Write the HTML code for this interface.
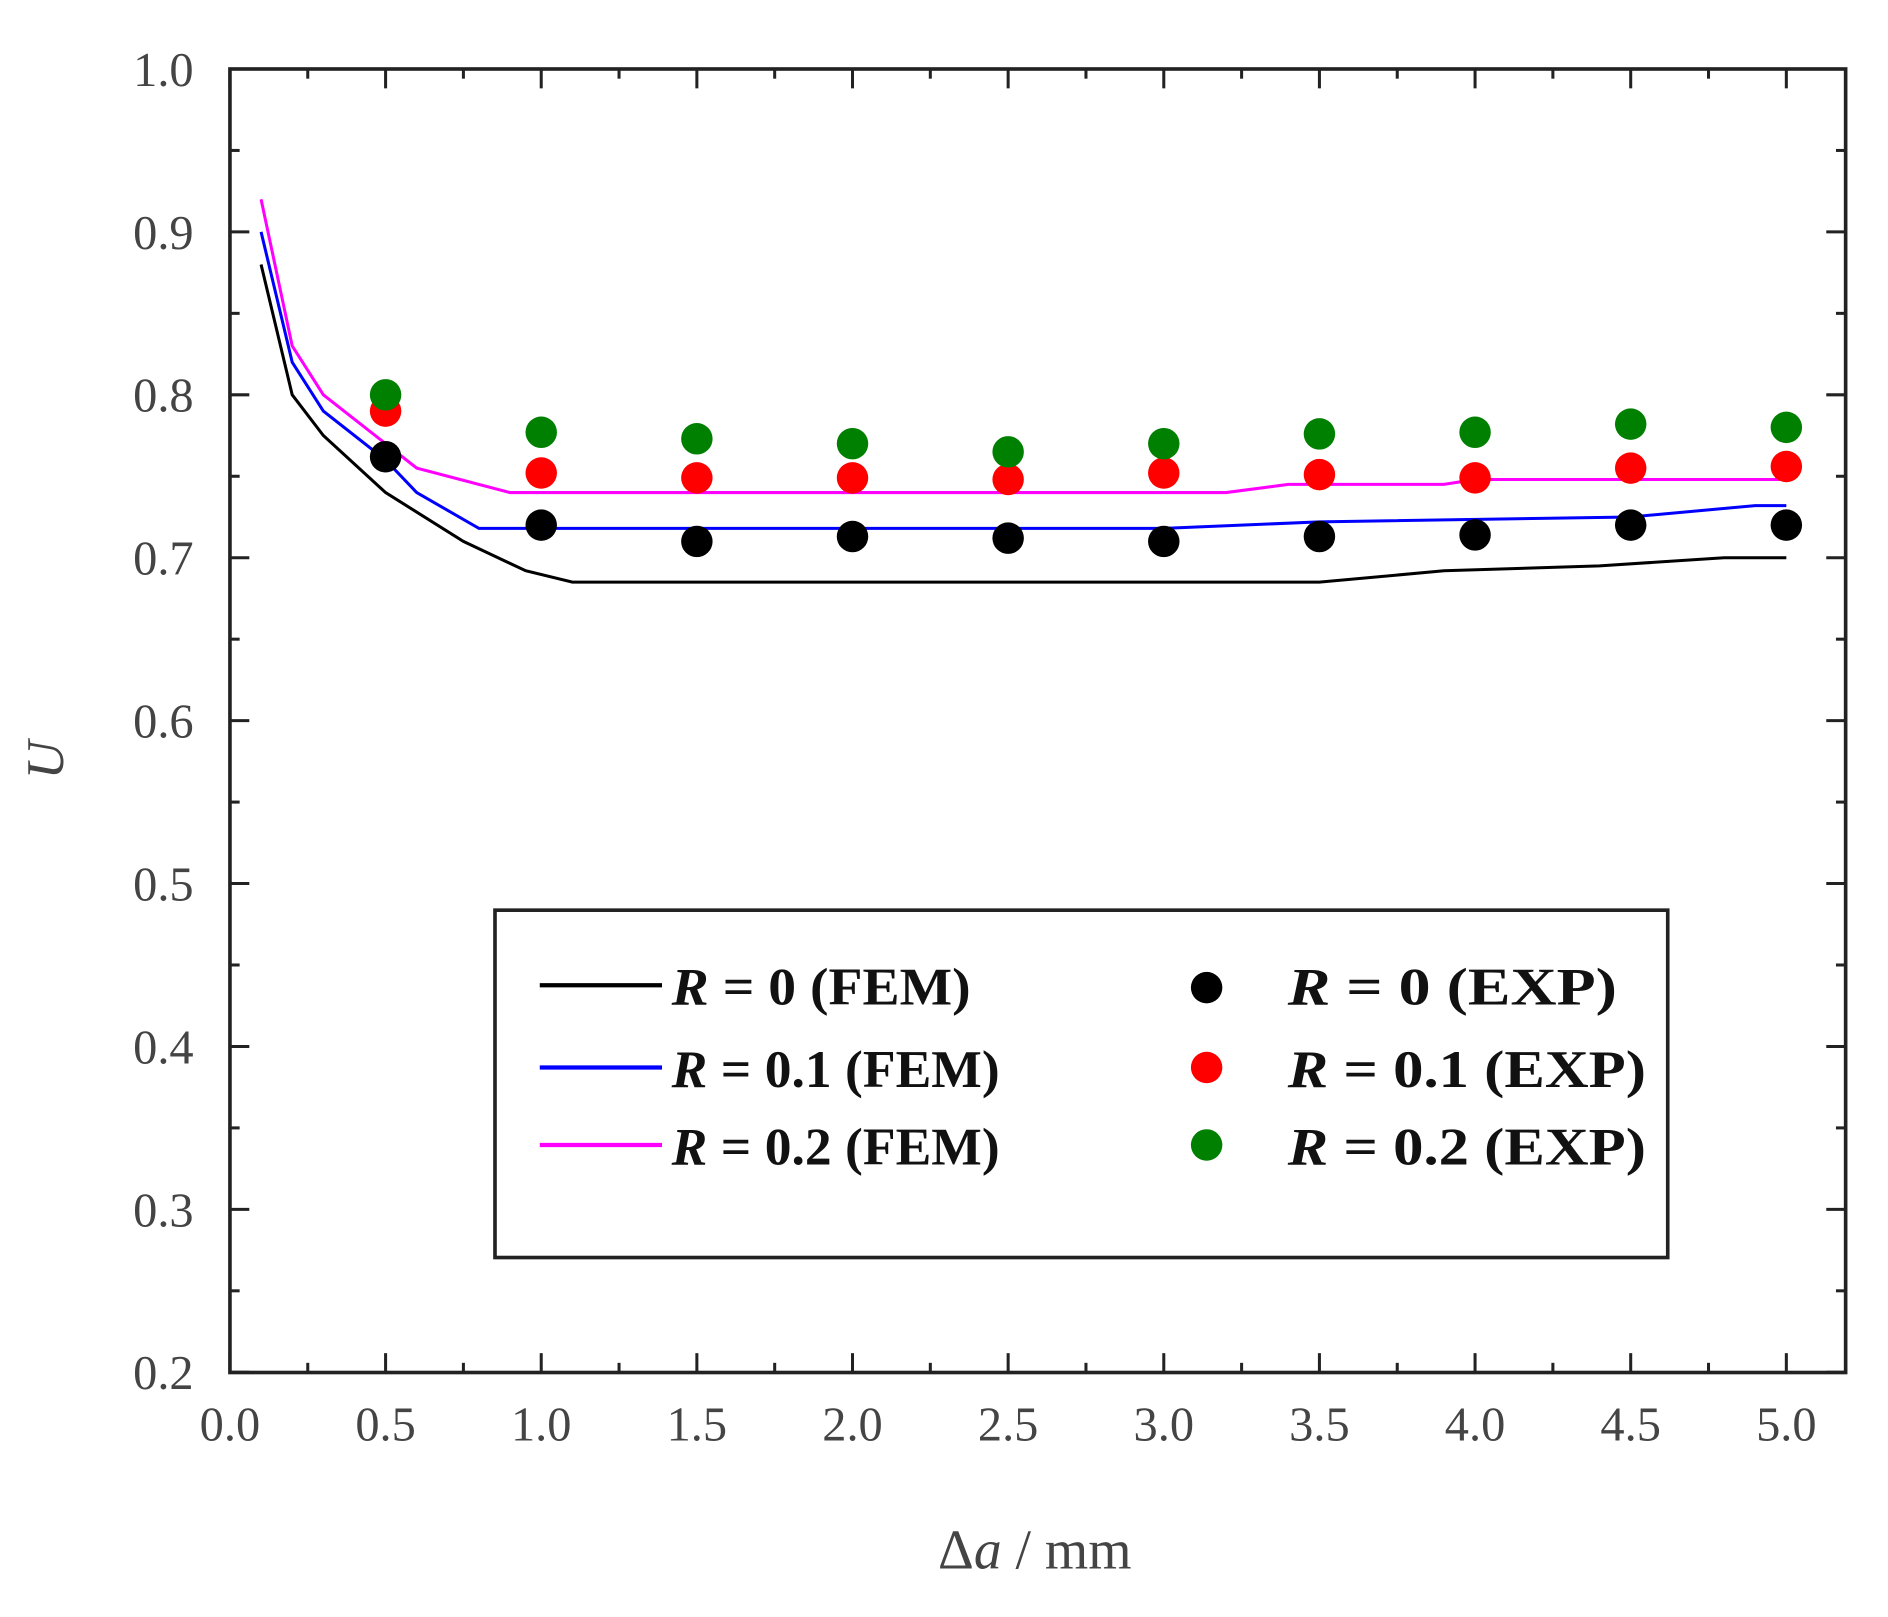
<!DOCTYPE html>
<html><head><meta charset="utf-8"><style>html,body{margin:0;padding:0;background:#fff}svg{display:block}</style></head>
<body>
<svg width="1888" height="1617" viewBox="0 0 1560 1336" preserveAspectRatio="none" xmlns="http://www.w3.org/2000/svg" font-family="Liberation Serif, serif">
<rect width="1560" height="1336" fill="#fff"/>
<g id="ticks" stroke="#222" stroke-width="2.5"></g>
<rect x="190" y="57" width="1335" height="1077" fill="none" stroke="#222" stroke-width="3"/>
<g id="lines" fill="none" stroke-width="2.5"></g>
<g id="marks"></g>
<g id="labels" font-size="40" fill="#444" text-anchor="middle"></g>
<text x="52" y="628" font-size="44" font-style="italic" fill="#444" text-anchor="middle" transform="rotate(-90 52 628)">U</text>
<text x="855" y="1296" font-size="46" fill="#444" text-anchor="middle">Δ<tspan font-style="italic">a</tspan> / mm</text>
<rect x="409" y="752" width="969" height="287" fill="#fff" stroke="#222" stroke-width="3"/>
<g font-size="44" fill="#111" font-weight="bold">
<line x1="446" y1="814" x2="547" y2="814" stroke="#000" stroke-width="3.5"/>
<line x1="446" y1="882" x2="547" y2="882" stroke="#0000ff" stroke-width="3.5"/>
<line x1="446" y1="946" x2="547" y2="946" stroke="#ff00ff" stroke-width="3.5"/>
<text x="555" y="830" textLength="247" lengthAdjust="spacingAndGlyphs"><tspan font-style="italic">R</tspan> = 0  (FEM)</text>
<text x="555" y="898" textLength="271" lengthAdjust="spacingAndGlyphs"><tspan font-style="italic">R</tspan> = 0.1 (FEM)</text>
<text x="555" y="962" textLength="271" lengthAdjust="spacingAndGlyphs"><tspan font-style="italic">R</tspan> = 0.2 (FEM)</text>
<circle cx="997" cy="816" r="13" fill="#000"/>
<circle cx="997" cy="882" r="13" fill="#ff0000"/>
<circle cx="997" cy="946" r="13" fill="#008000"/>
<text x="1064" y="830" textLength="272" lengthAdjust="spacingAndGlyphs"><tspan font-style="italic">R</tspan> = 0  (EXP)</text>
<text x="1064" y="898" textLength="296" lengthAdjust="spacingAndGlyphs"><tspan font-style="italic">R</tspan> = 0.1 (EXP)</text>
<text x="1064" y="962" textLength="296" lengthAdjust="spacingAndGlyphs"><tspan font-style="italic">R</tspan> = 0.2 (EXP)</text>
</g>
<script>
const X=v=>190+v*257.2, Y=v=>57+(1-v)*1346, NS="http://www.w3.org/2000/svg";
function el(p,t,a){const e=document.createElementNS(NS,t);for(const k in a)e.setAttribute(k,a[k]);document.getElementById(p).appendChild(e);return e;}
for(let i=0;i<=20;i++){const x=X(i*0.25),L=i%2?8:16;if(x>1525)continue;el("ticks","line",{x1:x,y1:1134,x2:x,y2:1134-L});el("ticks","line",{x1:x,y1:57,x2:x,y2:57+L});}
for(let i=0;i<=16;i++){const y=Y(0.2+i*0.05),L=i%2?8:16;el("ticks","line",{x1:190,y1:y,x2:190+L,y2:y});el("ticks","line",{x1:1525,y1:y,x2:1525-L,y2:y});}
for(let i=0;i<=10;i++){el("labels","text",{x:X(i*0.5),y:1190}).textContent=(i*0.5).toFixed(1);}
for(let i=0;i<=8;i++){const t=el("labels","text",{x:135,y:Y(0.2+i*0.1)+14});t.textContent=(0.2+i*0.1).toFixed(1);}
const L=[["#000",[[0.1,0.88],[0.2,0.8],[0.3,0.775],[0.5,0.74],[0.75,0.71],[0.95,0.692],[1.1,0.685],[3.5,0.685],[3.9,0.692],[4.4,0.695],[4.8,0.7],[5,0.7]]],
["#0000ff",[[0.1,0.9],[0.2,0.82],[0.3,0.79],[0.5,0.76],[0.6,0.74],[0.8,0.718],[3.0,0.718],[3.5,0.722],[4.5,0.725],[4.9,0.732],[5,0.732]]],
["#ff00ff",[[0.1,0.92],[0.2,0.83],[0.3,0.8],[0.5,0.77],[0.6,0.755],[0.9,0.74],[3.2,0.74],[3.4,0.745],[3.9,0.745],[4.0,0.748],[5,0.748]]]];
L.forEach(([c,p])=>el("lines","polyline",{stroke:c,points:p.map(q=>X(q[0])+","+Y(q[1])).join(" ")}));
const xs=[0.5,1,1.5,2,2.5,3,3.5,4,4.5,5];
const M=[["#000",[0.762,0.72,0.71,0.713,0.712,0.71,0.713,0.714,0.72,0.72]],["#ff0000",[0.79,0.752,0.749,0.749,0.748,0.752,0.751,0.749,0.755,0.756]],["#008000",[0.8,0.777,0.773,0.77,0.765,0.77,0.776,0.777,0.782,0.78]]];
M.forEach(([c,v])=>v.forEach((y,i)=>el("marks","circle",{cx:X(xs[i]),cy:Y(y),r:13,fill:c})));
</script>
</svg>
</body></html>
